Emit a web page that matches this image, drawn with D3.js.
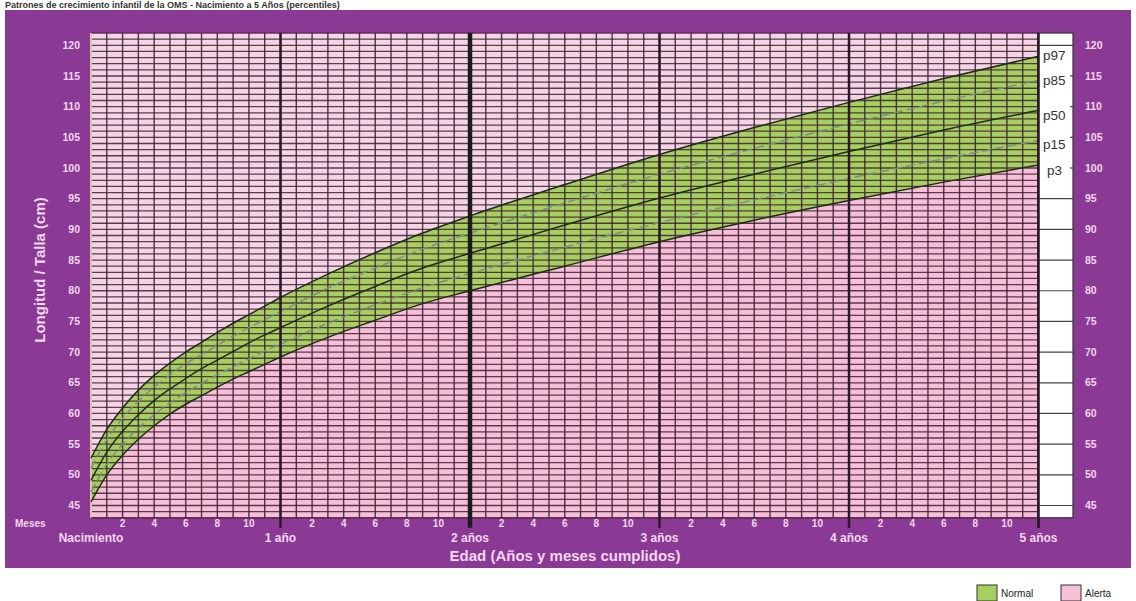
<!DOCTYPE html>
<html><head><meta charset="utf-8">
<script src="https://cdn.jsdelivr.net/npm/d3@7"></script>
<style>body{margin:0;background:#fff}svg{display:block}text{font-family:"Liberation Sans",Arial,sans-serif}</style>
</head><body><svg id="c" width="1136" height="601"></svg>
<script>
// Data (WHO girls length/height-for-age percentiles, cm)
const months = [0,1,2,3,4,5,6,7,8,9,10,11,12,15,18,21,24,30,36,42,48,54,60];
const p3  = [45.6,50.0,53.2,55.8,58.0,59.9,61.5,62.9,64.3,65.6,66.8,68.0,69.2,72.4,75.2,77.9,80.0,84.0,88.0,91.5,94.7,97.7,100.5];
const p15 = [47.2,51.7,55.0,57.6,59.8,61.7,63.4,64.9,66.3,67.6,68.9,70.2,71.3,74.7,77.7,80.5,82.8,87.1,91.1,94.8,98.3,101.5,104.5];
const p50 = [49.1,53.7,57.1,59.8,62.1,64.0,65.7,67.3,68.7,70.1,71.5,72.8,74.0,77.5,80.7,83.7,86.1,90.7,95.1,99.0,102.7,106.2,109.4];
const p85 = [51.1,55.7,59.2,62.0,64.3,66.3,68.1,69.6,71.1,72.6,74.0,75.3,76.6,80.4,83.7,86.8,89.4,94.3,99.0,103.2,107.2,110.9,114.3];
const p97 = [52.7,57.4,60.9,63.8,66.2,68.2,70.0,71.6,73.2,74.7,76.1,77.5,78.9,82.7,86.2,89.4,92.2,97.3,102.2,106.6,110.7,114.6,118.2];
const yTicks = [45,50,55,60,65,70,75,80,85,90,95,100,105,110,115,120];
const monthTickLabels = [2,4,6,8,10];
const yearLabels = ["Nacimiento","1 año","2 años","3 años","4 años","5 años"];
const pctLabels = ["p97","p85","p50","p15","p3"];
const legendItems = ["Normal","Alerta"];

const svg = d3.select("#c");
const x = d3.scaleLinear().domain([0,60]).range([91,1038.5]);
const y = d3.scaleLinear().domain([45,120]).range([505.5,45.3]);
const yMin = 43, yMax = 122;
const purple = "#8a3995", labelCol = "#f3d8ef";

// title
svg.append("text").attr("x",5).attr("y",8).attr("font-size",9).attr("font-weight","bold")
  .attr("fill","#333").text("Patrones de crecimiento infantil de la OMS - Nacimiento a 5 Años (percentiles)");

// purple panel
svg.append("rect").attr("x",5).attr("y",10).attr("width",1126).attr("height",558).attr("fill",purple);

// pink background regions
const gTop = y(yMax), gBot = y(yMin);
svg.append("rect").attr("x",x(0)).attr("y",gTop).attr("width",x(60)-x(0)).attr("height",gBot-gTop).attr("fill","#f6bed7");
const pts = months.map((m,i)=>({m, p3:p3[i], p15:p15[i], p50:p50[i], p85:p85[i], p97:p97[i]}));
const curve = d3.curveMonotoneX;
svg.append("path").datum(pts).attr("fill","#f5d4e5")
  .attr("d", d3.area().curve(curve).x(d=>x(d.m)).y0(gTop).y1(d=>y(d.p97)));
svg.append("path").datum(pts).attr("fill","#a7cf5f")
  .attr("d", d3.area().curve(curve).x(d=>x(d.m)).y0(d=>y(d.p3)).y1(d=>y(d.p97)));

// grid
const g = svg.append("g");
g.selectAll("line.h").data(d3.range(yMin, yMax+1)).join("line")
  .attr("x1",x(0)).attr("x2",x(60)).attr("y1",d=>y(d)).attr("y2",d=>y(d))
  .attr("stroke","#3d2334").attr("stroke-width",1.3).attr("stroke-opacity",0.85);
g.selectAll("line.v").data(d3.range(0,61)).join("line")
  .attr("x1",d=>x(d)).attr("x2",d=>x(d)).attr("y1",gTop).attr("y2",gBot)
  .attr("stroke","#3d2334").attr("stroke-width",1.4).attr("stroke-opacity",0.9);
svg.append("line").attr("x1",x(0)).attr("x2",x(0)).attr("y1",gTop).attr("y2",gBot).attr("stroke","#d9c8a3").attr("stroke-width",2);

// percentile lines
const line = key => d3.line().curve(curve).x(d=>x(d.m)).y(d=>y(d[key]));
[["p97",false],["p85",true],["p50",false],["p15",true],["p3",false]].forEach(([k,dash])=>{
  svg.append("path").datum(pts).attr("fill","none")
    .attr("stroke", dash ? "#7d8c86" : "#1f2a1c").attr("stroke-width",1.5)
    .attr("stroke-dasharray", dash ? "9,4" : null).attr("d", line(k));
});

// year lines
[12,24,36,48,60].forEach(m=>{
  svg.append("line").attr("x1",x(m)).attr("x2",x(m)).attr("y1",gTop).attr("y2",gBot+10)
    .attr("stroke", m===24 ? "#1c1a1c" : "#2a1826").attr("stroke-width", m===24 ? 4.5 : 2.5);
});

// right white strip
const sx0 = x(60), sx1 = 1073;
svg.append("rect").attr("x",sx0).attr("y",gTop).attr("width",sx1-sx0).attr("height",gBot-gTop)
  .attr("fill","#fff").attr("stroke","#333").attr("stroke-width",1.2);
svg.selectAll("line.s").data(yTicks.filter(v=>v<=95 || v===120)).join("line")
  .attr("x1",sx0).attr("x2",sx1).attr("y1",d=>y(d)).attr("y2",d=>y(d)).attr("stroke","#444").attr("stroke-width",1.2);
svg.selectAll("line.st").data(yTicks.filter(v=>v>95 && v<120)).join("line")
  .attr("x1",sx1-3).attr("x2",sx1).attr("y1",d=>y(d)).attr("y2",d=>y(d)).attr("stroke","#444").attr("stroke-width",1.2);
svg.append("line").attr("x1",x(60)).attr("x2",x(60)).attr("y1",gTop).attr("y2",gBot+10).attr("stroke","#2a1826").attr("stroke-width",2.5);

// percentile labels
const endVals = [p97, p85, p50, p15, p3].map(a=>a[a.length-1]);
const pctOffX = [1043,1043,1043,1043,1047];
const pctOffY = [-1,0,5,4,5];
svg.selectAll("text.pl").data(pctLabels).join("text")
  .attr("x",(d,i)=>pctOffX[i]).attr("y",(d,i)=>y(endVals[i])+pctOffY[i]).attr("dy","0.35em")
  .attr("font-size",13.5).attr("fill","#333").text(d=>d);

// y axis labels left & right
svg.selectAll("text.yl").data(yTicks).join("text")
  .attr("x",80).attr("y",d=>y(d)).attr("dy","0.35em").attr("text-anchor","end")
  .attr("font-size",10.5).attr("font-weight","bold").attr("fill",labelCol).text(d=>d);
svg.selectAll("text.yr").data(yTicks).join("text")
  .attr("x",1085).attr("y",d=>y(d)).attr("dy","0.35em").attr("text-anchor","start")
  .attr("font-size",10.5).attr("font-weight","bold").attr("fill",labelCol).text(d=>d);

// x month labels
svg.append("text").attr("x",15).attr("y",527).attr("font-size",10).attr("font-weight","bold").attr("fill",labelCol).text("Meses");
const monthTicks = [];
for (let yr=0; yr<5; yr++) monthTickLabels.forEach(m=>monthTicks.push({v:yr*12+m, t:m}));
svg.selectAll("text.mt").data(monthTicks).join("text")
  .attr("x",d=>x(d.v)).attr("y",527).attr("text-anchor","middle")
  .attr("font-size",10).attr("font-weight","bold").attr("fill",labelCol).text(d=>d.t);
svg.selectAll("text.yrl").data(yearLabels).join("text")
  .attr("x",(d,i)=>x(i*12)).attr("y",542).attr("text-anchor","middle")
  .attr("font-size",12).attr("font-weight","bold").attr("fill",labelCol).text(d=>d);

// axis titles
svg.append("text").attr("x",565).attr("y",561).attr("text-anchor","middle")
  .attr("font-size",15).attr("font-weight","bold").attr("fill",labelCol).text("Edad (Años y meses cumplidos)");
svg.append("text").attr("transform","translate(45,270) rotate(-90)").attr("text-anchor","middle")
  .attr("font-size",15).attr("font-weight","bold").attr("fill",labelCol).text("Longitud / Talla (cm)");

// legend
const legCols = ["#a7cf5f","#f6c0d8"];
const legX = [977,1061];
legendItems.forEach((t,i)=>{
  svg.append("rect").attr("x",legX[i]).attr("y",585).attr("width",20).attr("height",16)
    .attr("fill",legCols[i]).attr("stroke","#333").attr("stroke-width",1);
  svg.append("text").attr("x",legX[i]+24).attr("y",597).attr("font-size",10).attr("fill","#222").text(t);
});
</script></body></html>
